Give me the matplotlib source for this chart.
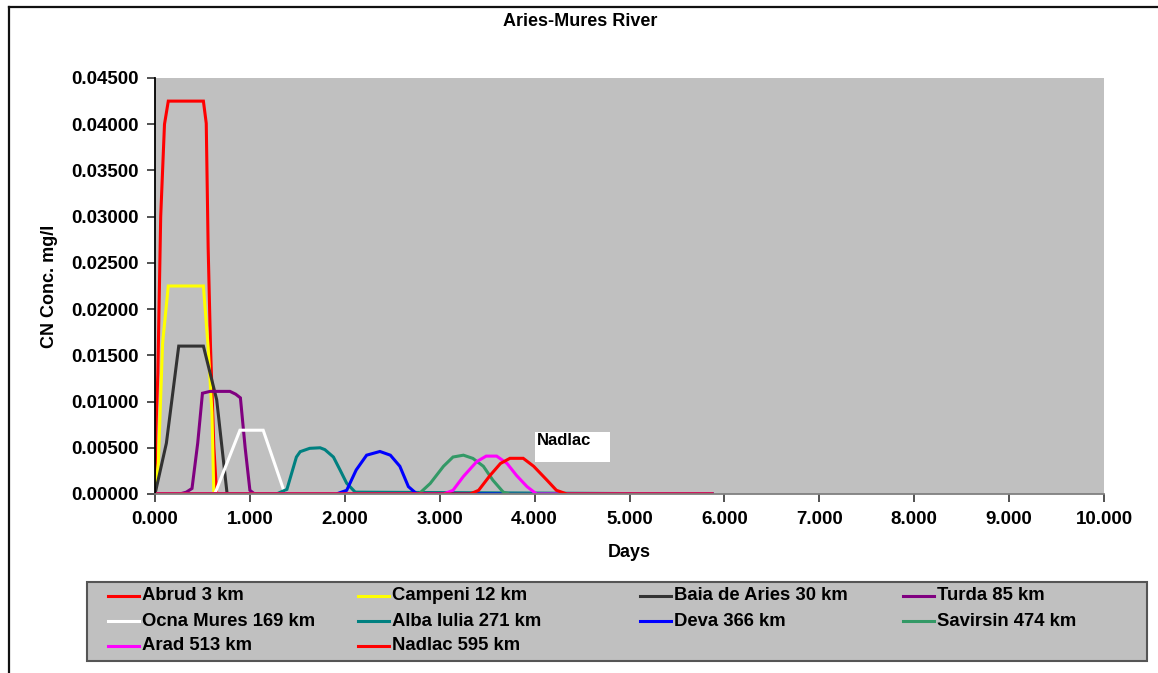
import matplotlib
matplotlib.use("Agg")
import matplotlib.pyplot as plt
from matplotlib.patches import Rectangle
from matplotlib.lines import Line2D
from matplotlib.ticker import FormatStrFormatter, MultipleLocator

plt.rcParams['font.family'] = ['Liberation Sans', 'DejaVu Sans']
plt.rcParams['font.weight'] = 'bold'

# Station names (distance downstream)
labels = ["Abrud 3 km", "Campeni 12 km", "Baia de Aries 30 km", "Turda 85 km",
          "Ocna Mures 169 km", "Alba Iulia 271 km", "Deva 366 km", "Savirsin 474 km",
          "Arad 513 km", "Nadlac 595 km"]
colors = ["#FF0000", "#FFFF00", "#333333", "#800080",
          "#FFFFFF", "#008080", "#0000FF", "#339966",
          "#FF00FF", "#FF0000"]

# CN concentration (mg/l) versus time (days) at each station
abrud_days = [0.0, 0.01, 0.03, 0.06, 0.10, 0.14, 0.51, 0.54, 0.56, 0.585, 0.62, 0.65, 5.87]
abrud_conc = [0.0, 0.007, 0.013, 0.030, 0.040, 0.0425, 0.0425, 0.0401, 0.0267, 0.0159, 0.0051, 0.0, 0.0]

campeni_days = [0.0, 0.035, 0.08, 0.14, 0.51, 0.56, 0.60, 0.62, 5.87]
campeni_conc = [0.0, 0.0033, 0.0163, 0.0225, 0.0225, 0.0159, 0.0088, 0.0, 0.0]

baia_days = [0.0, 0.12, 0.25, 0.51, 0.65, 0.76, 5.87]
baia_conc = [0.0, 0.0055, 0.0160, 0.0160, 0.0102, 0.0, 0.0]

turda_days = [0.0, 0.26, 0.33, 0.39, 0.45, 0.50, 0.58, 0.70, 0.79, 0.85, 0.90, 0.95, 1.00, 1.05, 5.87]
turda_conc = [0.0, 0.0, 0.0002, 0.0006, 0.0055, 0.0109, 0.0111, 0.0111, 0.0111, 0.0108, 0.0104, 0.0050, 0.0004, 0.0, 0.0]

ocna_days = [0.0, 0.63, 0.895, 1.14, 1.37, 5.87]
ocna_conc = [0.0, 0.0, 0.0069, 0.0069, 0.0, 0.0]

alba_days = [0.0, 1.28, 1.39, 1.49, 1.53, 1.63, 1.74, 1.79, 1.88, 1.95, 2.02, 2.11, 5.87]
alba_conc = [0.0, 0.0, 0.0005, 0.0040, 0.00458, 0.00494, 0.0050, 0.0048, 0.0040, 0.0026, 0.00116, 0.0002, 0.0]

deva_days = [0.0, 1.91, 2.02, 2.12, 2.23, 2.37, 2.48, 2.58, 2.67, 2.76, 5.87]
deva_conc = [0.0, 0.0, 0.0004, 0.0026, 0.0042, 0.0046, 0.0042, 0.0030, 0.0008, 0.0, 0.0]

savirsin_days = [0.0, 2.78, 2.90, 3.04, 3.14, 3.25, 3.35, 3.46, 3.56, 3.67, 3.74, 5.87]
savirsin_conc = [0.0, 0.0, 0.00114, 0.0030, 0.0040, 0.0042, 0.00385, 0.0030, 0.0015, 0.0002, 0.0, 0.0]

arad_days = [0.0, 3.04, 3.14, 3.25, 3.39, 3.49, 3.60, 3.71, 3.81, 3.92, 4.02, 5.87]
arad_conc = [0.0, 0.0, 0.0004, 0.0019, 0.0035, 0.0041, 0.0041, 0.0033, 0.0020, 0.0008, 0.0, 0.0]

nadlac_days = [0.0, 3.32, 3.41, 3.53, 3.64, 3.74, 3.88, 3.99, 4.13, 4.23, 4.34, 5.87]
nadlac_conc = [0.0, 0.0, 0.0004, 0.0020, 0.0033, 0.00386, 0.00386, 0.0030, 0.0015, 0.0004, 0.0, 0.0]

series_days = [abrud_days, campeni_days, baia_days, turda_days, ocna_days,
               alba_days, deva_days, savirsin_days, arad_days, nadlac_days]
series_conc = [abrud_conc, campeni_conc, baia_conc, turda_conc, ocna_conc,
               alba_conc, deva_conc, savirsin_conc, arad_conc, nadlac_conc]

W, H = 1158, 673
fig = plt.figure(figsize=(W / 100, H / 100), dpi=100)
fig.patch.set_facecolor("white")


def fx(px):
    return px / W


def fy(py):
    return 1 - py / H


# Outer frame (left and top edges)
fig.add_artist(Line2D([fx(9), fx(9)], [fy(7), fy(673)], color="#111111", lw=1.6))
fig.add_artist(Line2D([fx(9), fx(1158)], [fy(7), fy(7)], color="#111111", lw=1.6))

ax = fig.add_axes([fx(155), fy(494), fx(1104) - fx(155), fy(78) - fy(494)])
ax.set_facecolor("#C0C0C0")

for d, c, col in zip(series_days, series_conc, colors):
    ax.plot(d, c, color=col, lw=2.2, solid_joinstyle="miter")

ax.set_xlim(0, 10)
ax.set_ylim(0, 0.045)
ax.xaxis.set_major_locator(MultipleLocator(1))
ax.yaxis.set_major_locator(MultipleLocator(0.005))
ax.xaxis.set_major_formatter(FormatStrFormatter("%.3f"))
ax.yaxis.set_major_formatter(FormatStrFormatter("%.5f"))
for s in ["top", "right"]:
    ax.spines[s].set_visible(False)
ax.spines["left"].set_color("#000000")
ax.spines["left"].set_linewidth(1.3)
ax.spines["bottom"].set_color("#808080")
ax.spines["bottom"].set_linewidth(1.3)
ax.tick_params(axis="both", direction="out", length=6, width=1.2, color="#333333",
               labelsize=13.5, pad=6)
for lab in ax.get_xticklabels() + ax.get_yticklabels():
    lab.set_fontweight("bold")

fig.text(fx(580), fy(22), "Aries-Mures River", fontsize=13, fontweight="bold",
         ha="center", va="center")
ax.set_xlabel("Days", fontsize=13, fontweight="bold", labelpad=12)
ax.set_ylabel("CN Conc. mg/l", fontsize=13, fontweight="bold", labelpad=9)

# Label box pointing out the last station
ax.add_patch(Rectangle((4.004, 0.00346), 0.786, 0.00325, facecolor="white",
                       edgecolor="none", zorder=5))
ax.text(4.02, 0.0066, "Nadlac", fontsize=12, fontweight="bold", va="top", ha="left", zorder=6)

# Legend panel
fig.add_artist(Rectangle((fx(87), fy(661)), fx(1147) - fx(87), fy(582) - fy(661),
                         transform=fig.transFigure, facecolor="#C0C0C0",
                         edgecolor="#555555", lw=1.5))
col_x = [108, 358, 640, 903]
row_y = [596, 621, 646]
for i, (lab, col) in enumerate(zip(labels, colors)):
    r, c = divmod(i, 4)
    x0 = col_x[c]
    y0 = row_y[r]
    fig.add_artist(Line2D([fx(x0), fx(x0 + 31)], [fy(y0), fy(y0)], color=col, lw=2.2,
                          transform=fig.transFigure))
    fig.text(fx(x0 + 34), fy(y0), lab, fontsize=13.3, fontweight="bold",
             va="center", ha="left")

fig.savefig("out.png", dpi=100)
